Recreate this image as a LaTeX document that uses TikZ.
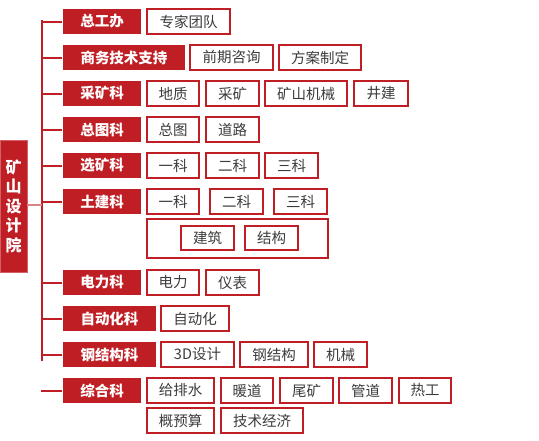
\documentclass[tikz,border=0pt]{standalone}
\usepackage{fontspec}
\setmainfont{Noto Sans CJK SC}
\definecolor{myred}{RGB}{190,30,36}
\definecolor{txt}{RGB}{60,60,60}
\tikzset{
  base/.style={inner sep=0pt, minimum height=25pt, line width=1.1pt, font=\fontsize{14.5}{16}\selectfont},
  lone/.style={base, fill=myred, text=white, font=\fontsize{14.5}{16}\selectfont\bfseries},
  ltwo/.style={base, draw=myred, fill=white, text=txt},
  link/.style={draw=myred, line width=2pt},
}
\begin{document}
\begin{tikzpicture}[x=1pt,y=-1pt]
\useasboundingbox (0,0) rectangle (539,440);
% root
\node[fill=myred, draw=myred!70, line width=0.8pt, text=white, inner sep=0pt, minimum width=27pt, minimum height=132pt, align=center, font=\fontsize{16}{19.5}\selectfont\bfseries] (root) at (13.5,206) {矿\\山\\设\\计\\院};
\coordinate (ttop) at (42,20);
\coordinate (tbot) at (42,361);
\coordinate (tmid) at (42,205);
\coordinate (zstub) at (41,390.5);
% level 1
\node[lone, minimum width=78pt] (a1) at (102,21.5) {总工办};
\node[lone, minimum width=122pt] (a2) at (124,57.5) {商务技术支持};
\node[lone, minimum width=78pt] (a3) at (102,93.5) {采矿科};
\node[lone, minimum width=78pt] (a4) at (102,129.5) {总图科};
\node[lone, minimum width=78pt] (a5) at (102,165.5) {选矿科};
\node[lone, minimum width=78pt] (a6) at (102,201.5) {土建科};
\node[lone, minimum width=78pt] (a7) at (102,282.5) {电力科};
\node[lone, minimum width=93pt] (a8) at (109.5,318.5) {自动化科};
\node[lone, minimum width=93pt] (a9) at (109.5,354.5) {钢结构科};
\node[lone, minimum width=78pt] (a10) at (102,390.5) {综合科};
% connectors
\draw[link] (ttop) -- (tbot);
\draw[draw=myred!55, line width=2pt] (root.east |- tmid) -- (tmid);
\foreach \n in {a1,a2,a3,a4,a5,a6,a7,a8,a9}{
  \draw[link] (\n.west) -- (\n.west -| ttop);
}
\draw[link] (a10.west) -- (zstub);
% level 2
\node[ltwo, minimum width=83pt] (b11) at (188.5,21.5) {专家团队};
\node[ltwo, minimum width=83pt] (b21) at (231.5,57.5) {前期咨询};
\node[ltwo, minimum width=82pt] (b22) at (320,57.5) {方案制定};
\node[ltwo, minimum width=52pt] (b31) at (173,93.5) {地质};
\node[ltwo, minimum width=53pt] (b32) at (232.5,93.5) {采矿};
\node[ltwo, minimum width=82pt] (b33) at (306,93.5) {矿山机械};
\node[ltwo, minimum width=54pt] (b34) at (381,93.5) {井建};
\node[ltwo, minimum width=52pt] (b41) at (173,129.5) {总图};
\node[ltwo, minimum width=53pt] (b42) at (232.5,129.5) {道路};
\node[ltwo, minimum width=52pt] (b51) at (173,165.5) {一科};
\node[ltwo, minimum width=53pt] (b52) at (232.5,165.5) {二科};
\node[ltwo, minimum width=53pt] (b53) at (291.5,165.5) {三科};
\node[ltwo, minimum width=52pt] (b61) at (173,201.5) {一科};
\node[ltwo, minimum width=53pt] (b62) at (236.5,201.5) {二科};
\node[ltwo, minimum width=53pt] (b63) at (300.5,201.5) {三科};
\node[ltwo, minimum width=181pt, minimum height=39pt] (big) at (237.5,238.5) {};
\node[ltwo, minimum width=53pt, minimum height=24pt] (b64) at (207.5,238) {建筑};
\node[ltwo, minimum width=53pt, minimum height=24pt] (b65) at (271.5,238) {结构};
\node[ltwo, minimum width=52pt] (b71) at (173,282.5) {电力};
\node[ltwo, minimum width=53pt] (b72) at (232.5,282.5) {仪表};
\node[ltwo, minimum width=68pt] (b81) at (195,318.5) {自动化};
\node[ltwo, minimum width=73pt] (b91) at (197.5,354.5) {3D设计};
\node[ltwo, minimum width=68pt] (b92) at (274,354.5) {钢结构};
\node[ltwo, minimum width=53pt] (b93) at (340.5,354.5) {机械};
\node[ltwo, minimum width=67pt] (c1) at (180.5,390.5) {给排水};
\node[ltwo, minimum width=52pt] (c2) at (247,390.5) {暖道};
\node[ltwo, minimum width=53pt] (c3) at (306.5,390.5) {尾矿};
\node[ltwo, minimum width=53pt] (c4) at (365.5,390.5) {管道};
\node[ltwo, minimum width=52pt] (c5) at (425,390.5) {热工};
\node[ltwo, minimum width=67pt] (c6) at (180.5,420.5) {概预算};
\node[ltwo, minimum width=82pt] (c7) at (262,420.5) {技术经济};
\end{tikzpicture}
\end{document}
